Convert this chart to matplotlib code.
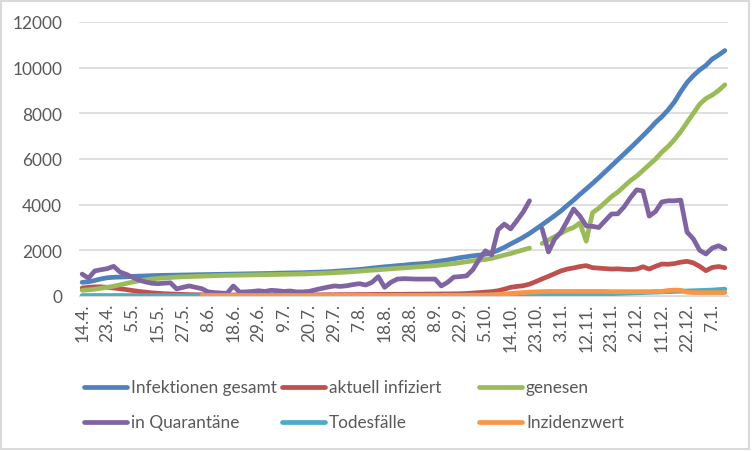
import numpy as np
import matplotlib
matplotlib.use("Agg")
from matplotlib import pyplot as plt
from matplotlib.lines import Line2D
from matplotlib.patches import Rectangle

nan = np.nan

# tick labels (every 4th data row)
tick_labels = ['14.4.', '23.4.', '5.5.', '15.5.', '27.5.', '8.6.', '18.6.', '29.6.', '9.7.',
               '20.7.', '29.7.', '7.8.', '18.8.', '28.8.', '8.9.', '22.9.', '5.10.', '14.10.',
               '23.10.', '3.11.', '12.11.', '23.11.', '2.12.', '11.12.', '22.12.', '7.1.']

infektionen = [600, 620, 680, 750, 800, 820, 830, 840, 860, 870,
               880, 890, 900, 905, 910, 915, 920, 925, 930, 935,
               940, 945, 950, 955, 960, 965, 970, 975, 980, 985,
               990, 1000, 1005, 1010, 1015, 1020, 1030, 1040, 1050, 1060,
               1080, 1100, 1120, 1140, 1160, 1190, 1220, 1250, 1280, 1300,
               1330, 1350, 1380, 1400, 1420, 1440, 1500, 1540, 1580, 1630,
               1680, 1720, 1760, 1790, 1830, 1900, 2000, 2130, 2280, 2420,
               2570, 2740, 2930, 3120, 3320, 3520, 3730, 3970, 4200, 4450,
               4690, 4930, 5180, 5440, 5700, 5960, 6220, 6480, 6750, 7020,
               7300, 7600, 7850, 8150, 8500, 8950, 9350, 9650, 9900, 10100,
               10380, 10550, 10750]

aktuell = [350, 380, 400, 400, 380, 350, 320, 280, 240, 200,
           170, 140, 120, 100, 90, 80, 70, 60, 55, 50,
           50, 50, 50, 45, 45, 45, 45, 40, 40, 40,
           40, 40, 40, 45, 45, 45, 50, 50, 50, 55,
           55, 60, 60, 60, 65, 65, 70, 70, 70, 75,
           75, 75, 80, 80, 80, 85, 85, 90, 90, 95,
           100, 110, 130, 150, 170, 190, 230, 300, 380, 420,
           450, 520, 630, 750, 860, 980, 1100, 1180, 1230, 1290,
           1330, 1240, 1220, 1200, 1180, 1190, 1170, 1160, 1180, 1280,
           1180, 1300, 1400, 1390, 1420, 1480, 1520, 1450, 1300, 1110,
           1250, 1290, 1240]

genesen = [250, 270, 300, 340, 380, 430, 490, 550, 610, 660,
           700, 740, 770, 790, 810, 830, 840, 850, 860, 870,
           880, 890, 900, 905, 910, 915, 920, 925, 930, 935,
           940, 945, 950, 955, 960, 965, 975, 985, 995, 1005,
           1020, 1035, 1050, 1070, 1090, 1110, 1130, 1150, 1170, 1190,
           1210, 1230, 1250, 1270, 1290, 1310, 1330, 1360, 1390, 1420,
           1460, 1500, 1540, 1570, 1600, 1650, 1720, 1790, 1860, 1940,
           2020, 2100, nan, 2300, 2450, 2600, 2750, 2900, 3000, 3200,
           2400, 3650, 3850, 4100, 4350, 4550, 4800, 5050, 5250, 5500,
           5750, 6000, 6300, 6550, 6850, 7200, 7600, 8000, 8400, 8650,
           8800, 9000, 9250]

quarantaene = [960, 780, 1100, 1150, 1200, 1300, 1050, 950, 820, 700,
               620, 560, 540, 560, 580, 310, 380, 440, 380, 320,
               180, 150, 130, 120, 440, 170, 180, 200, 230, 200,
               250, 230, 200, 220, 180, 180, 200, 270, 330, 390,
               440, 420, 450, 500, 540, 480, 600, 850, 380, 600,
               740, 760, 750, 740, 740, 740, 740, 440, 600, 830,
               850, 880, 1150, 1600, 1980, 1800, 2900, 3150, 2940, 3300,
               3680, 4170, nan, 2940, 1930, 2500, 2800, 3300, 3810, 3500,
               3070, 3050, 3000, 3300, 3590, 3600, 3900, 4300, 4650, 4600,
               3500, 3700, 4120, 4170, 4170, 4200, 2800, 2500, 2000, 1840,
               2100, 2200, 2060]

todesfaelle = [20, 20, 20, 20, 20, 20, 20, 20, 20, 20,
               20, 20, 20, 20, 20, 20, 20, 20, 20, 20,
               25, 25, 25, 25, 25, 25, 25, 25, 25, 25,
               25, 25, 25, 25, 25, 25, 25, 25, 25, 25,
               30, 30, 30, 30, 30, 30, 30, 30, 30, 30,
               30, 30, 30, 30, 30, 30, 30, 30, 30, 30,
               35, 35, 35, 35, 35, 40, 40, 40, 40, 45,
               45, 45, 50, 50, 55, 55, 60, 60, 65, 70,
               75, 80, 85, 90, 100, 110, 120, 130, 140, 150,
               160, 170, 180, 190, 200, 210, 220, 230, 240, 250,
               260, 280, 300]

inzidenz = [nan, nan, nan, nan, nan, nan, nan, nan, nan, nan,
            nan, nan, nan, nan, nan, nan, nan, nan, nan, 20,
            20, 20, 20, 20, 20, 20, 20, 20, 20, 20,
            20, 20, 20, 20, 20, 20, 20, 20, 20, 20,
            25, 25, 25, 25, 25, 25, 25, 25, 25, 25,
            25, 25, 25, 25, 25, 25, 25, 25, 30, 30,
            30, 30, 35, 35, 40, 50, 70, 90, 110, 130,
            150, 170, 180, 190, 200, 200, 200, 200, 200, 200,
            200, 200, 200, 200, 190, 190, 190, 190, 190, 190,
            190, 200, 200, 240, 260, 250, 170, 150, 150, 150,
            150, 150, 150]

names = ['Infektionen gesamt', 'aktuell infiziert', 'genesen',
         'in Quarantäne', 'Todesfälle', 'Inzidenzwert']
colors = ['#4F81BD', '#C0504D', '#9BBB59', '#8064A2', '#4BACC6', '#F79646']
series = [infektionen, aktuell, genesen, quarantaene, todesfaelle, inzidenz]

plt.rcParams['font.family'] = ['Lato', 'DejaVu Sans']
fs = 12.4

fig = plt.figure(figsize=(7.52, 4.52), dpi=100)
ax = fig.add_axes([79 / 752, 1 - 297 / 452, (728 - 79) / 752, (297 - 23) / 452])

x = np.arange(len(infektionen))
for vals, c in zip(series, colors):
    ax.plot(x, vals, color=c, lw=3.4, solid_capstyle='round', solid_joinstyle='round')

ax.set_xlim(-0.5, len(x) - 0.5)
ax.set_ylim(0, 12000)
ax.set_yticks(range(0, 12001, 2000))
ax.set_xticks(np.arange(0, len(tick_labels) * 4, 4))
ax.set_xticklabels(tick_labels, rotation=90, va='top', ha='center')
ax.tick_params(axis='both', length=0, labelsize=fs, colors='#595959')
ax.tick_params(axis='x', pad=5)
ax.tick_params(axis='y', pad=12)
ax.grid(axis='y', color='#d9d9d9', lw=1.2)
ax.set_axisbelow(True)
for s in ['top', 'right', 'left']:
    ax.spines[s].set_visible(False)
ax.spines['bottom'].set_color('#d9d9d9')

# legend drawn by hand, 3 columns x 2 rows
col_x = [84, 282, 479]
row_y = [388, 423]
for k, (name, c) in enumerate(zip(names, colors)):
    cx = col_x[k % 3]
    cy = row_y[k // 3]
    fig.add_artist(Line2D([cx / 752, (cx + 43) / 752], [1 - cy / 452, 1 - cy / 452],
                          color=c, lw=3.4, solid_capstyle='round'))
    fig.text((cx + 47) / 752, 1 - cy / 452, name, fontsize=fs, color='#595959',
             va='center', ha='left')

fig.patches.append(Rectangle((1 / 752, 2 / 452), 748 / 752, 448 / 452, transform=fig.transFigure,
                             fill=False, edgecolor='#d9d9d9', lw=1.5))

fig.savefig('out.png', dpi=100, facecolor='white')
